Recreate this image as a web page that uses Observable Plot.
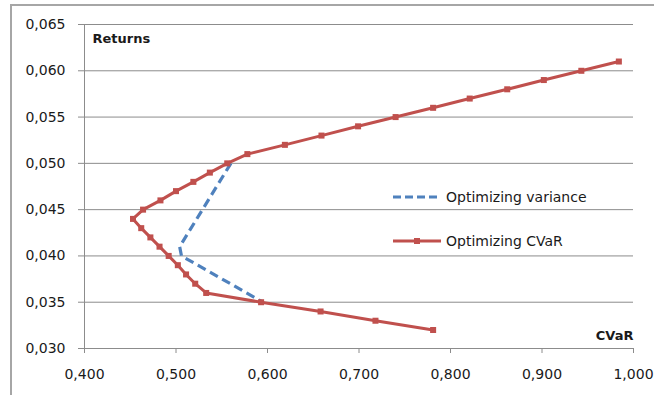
<!DOCTYPE html>
<html><head><meta charset="utf-8">
<script src="https://cdn.jsdelivr.net/npm/d3@7"></script>
<script src="https://cdn.jsdelivr.net/npm/@observablehq/plot@0.6"></script>
<style>
body{margin:0;background:#fff;}
#wrap{position:relative;width:654px;height:395px;overflow:hidden;background:#fff;}
#frame{position:absolute;left:10px;top:4px;width:700px;height:420px;border-left:2px solid #a6a6a6;border-top:2px solid #a6a6a6;}
#chart{position:absolute;left:0;top:0;}
.li{position:absolute;left:393px;height:20px;display:flex;align-items:center;font:14px "DejaVu Sans",sans-serif;color:#1a1a1a;white-space:nowrap;}
.li svg{margin-right:5px;}
</style></head>
<body><div id="wrap"><div id="frame"></div><div id="chart"></div>
<div class="li" style="top:187px"><svg width="48" height="20"><line x1="0" x2="48" y1="10" y2="10" stroke="#4F81BD" stroke-width="3" stroke-dasharray="8 4"/></svg><span>Optimizing variance</span></div>
<div class="li" style="top:231px"><svg width="48" height="20"><line x1="0" x2="48" y1="10" y2="10" stroke="#C0504D" stroke-width="3"/><rect x="21" y="7" width="6" height="6" fill="#C0504D"/></svg><span>Optimizing CVaR</span></div>
</div>
<script>
const seriesNames = ["Optimizing variance", "Optimizing CVaR"];
const cvarOptCVaR = [0.984,0.943,0.902,0.862,0.821,0.781,0.740,0.699,0.659,0.619,0.578,0.556,0.537,0.519,0.500,0.483,0.464,0.453,0.462,0.472,0.482,0.492,0.502,0.511,0.521,0.533,0.593,0.658,0.718,0.781];
const returnsOptCVaR = [0.061,0.060,0.059,0.058,0.057,0.056,0.055,0.054,0.053,0.052,0.051,0.050,0.049,0.048,0.047,0.046,0.045,0.044,0.043,0.042,0.041,0.040,0.039,0.038,0.037,0.036,0.035,0.034,0.033,0.032];
const cvarOptVar = [0.560,0.504,0.506,0.595];
const returnsOptVar = [0.050,0.041,0.040,0.035];
const xTicks = [0.4,0.5,0.6,0.7,0.8,0.9,1.0];
const yTicks = [0.030,0.035,0.040,0.045,0.050,0.055,0.060,0.065];
const xLabel = "CVaR";
const yLabel = "Returns";

const fmt = d => d3.format(".3f")(d).replace(".", ",");
const cvarRows = cvarOptCVaR.map((x, i) => ({x, y: returnsOptCVaR[i]}));
const varRows = cvarOptVar.map((x, i) => ({x, y: returnsOptVar[i]}));
const grid = "#8c8c8c", ink = "#1a1a1a";

const chart = Plot.plot({
  width: 654, height: 395,
  marginLeft: 84, marginRight: 21, marginTop: 24, marginBottom: 47,
  x: {domain: [0.4, 1.0]},
  y: {domain: [0.03, 0.065]},
  style: {fontFamily: "DejaVu Sans", fontSize: "14px", background: "transparent", overflow: "visible"},
  marks: [
    Plot.gridY(yTicks, {stroke: grid, strokeOpacity: 1}),
    Plot.ruleX([0.4], {stroke: grid}),
    Plot.ruleY([0.03], {stroke: grid}),
    Plot.axisY(yTicks, {tickSize: 6, tickPadding: 13, tickFormat: fmt, stroke: grid, fill: ink, label: null, fontSize: 14}),
    Plot.axisX(xTicks, {tickSize: 5, tickPadding: 16, tickFormat: fmt, stroke: grid, fill: ink, label: null, fontSize: 14}),
    Plot.line(varRows, {x: "x", y: "y", stroke: "#4F81BD", strokeWidth: 3.2, strokeDasharray: "9 5", strokeLinecap: "butt"}),
    Plot.line(cvarRows, {x: "x", y: "y", stroke: "#C0504D", strokeWidth: 3}),
    Plot.dot(cvarRows, {x: "x", y: "y", symbol: "square", r: 3.4, fill: "#C0504D"}),
    Plot.text([yLabel], {frameAnchor: "top-left", textAnchor: "start", lineAnchor: "top", dx: 8, dy: 9, fontWeight: "bold", fontSize: 13, fill: ink}),
    Plot.text([xLabel], {frameAnchor: "bottom-right", textAnchor: "end", lineAnchor: "bottom", dy: -9, fontWeight: "bold", fontSize: 13, fill: ink})
  ]
});
document.getElementById("chart").appendChild(chart);
</script>
</body></html>
